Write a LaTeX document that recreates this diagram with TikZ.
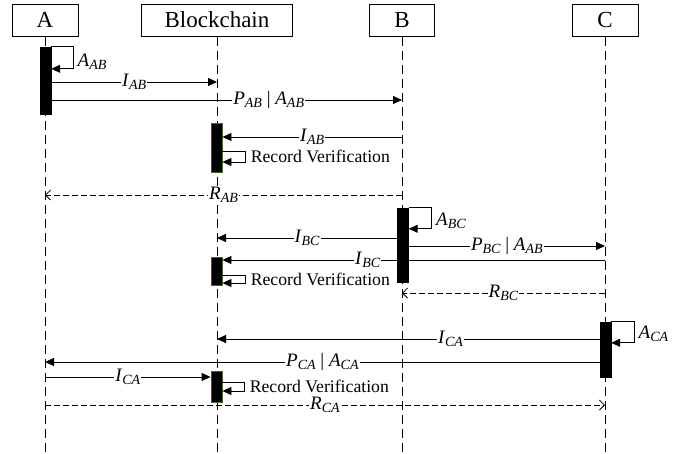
\documentclass[tikz,border=0pt]{standalone}
\usepackage{fontspec}
\setmainfont{Liberation Serif}
\usetikzlibrary{positioning,arrows.meta}

\definecolor{bargreen}{RGB}{70,100,40}
\newcommand{\symb}[2]{\textit{#1}\raisebox{-0.35ex}{\fontsize{14}{16}\selectfont\textit{#2}}}

\tikzset{
	actor/.style={draw,line width=1pt,minimum height=32pt,inner sep=0pt,font=\fontsize{23}{26}\selectfont},
	life/.style={line width=0.8pt,dash pattern=on 9pt off 5pt},
	bar/.style={draw,fill=black,minimum width=11pt,inner sep=0pt},
	gbar/.style={bar,draw=bargreen,line width=0.8pt},
	msg/.style={line width=0.8pt,-{Triangle[length=9pt,width=8pt]}},
	ret/.style={line width=0.8pt,dash pattern=on 6pt off 3pt,-{Straight Barb[length=5pt,width=10pt]}},
	lbl/.style={fill=white,inner sep=1pt,font=\fontsize{19}{22}\selectfont},
	self/.style={lbl,right,xshift=3pt},
	rv/.style={right,xshift=4pt,inner sep=1pt,font=\fontsize{17.7}{20}\selectfont},
}

\begin{document}
\begin{tikzpicture}[x=1pt,y=-1pt]
		\useasboundingbox (0,0) rectangle (686,453);
		\coordinate (bot) at (0,453);
		% participants and lifelines
		\node[actor,minimum width=66pt] (A) at (45,20) {A};
		\node[actor,minimum width=151pt] (BC) at (217,20) {Blockchain};
		\node[actor,minimum width=65pt] (B) at (402,20) {B};
		\node[actor,minimum width=66pt] (C) at (605,20) {C};
		\foreach \p in {A,BC,B,C}
			\draw[life] (\p.south) -- (\p.south |- bot);
		% activation bars
		\node[bar,minimum height=67pt] (actA) at (45.5,80.5) {};
		\node[gbar,minimum height=49pt] (bc1) at (216.5,147.5) {};
		\node[bar,minimum height=74pt] (actB) at (403,245) {};
		\node[gbar,minimum height=28pt] (bc2) at (216.5,271) {};
		\node[bar,minimum height=55pt] (actC) at (605.5,349.5) {};
		\node[gbar,minimum height=31pt] (bc3) at (216.5,386.5) {};
		% A -> Blockchain, A -> B
		\draw[msg] (actA.north east) -- ++(22,0) -- node[self,pos=0.7] {\symb{A}{AB}} ++(0,22) -- ++(-22,0);
		\draw[msg] (actA.east |- 0,82) -- node[lbl] {\symb{I}{AB}} (BC.south |- 0,82);
		\draw[msg] (actA.east |- 0,100) -- node[lbl,pos=0.62] {\symb{P}{AB} | \symb{A}{AB}} (B.south |- 0,100);
		\draw[msg] (B.south |- 0,137) -- node[lbl] {\symb{I}{AB}} (bc1.east |- 0,137);
		\draw[msg] (bc1.east |- 0,151) -- ++(23,0) -- node[rv] {Record Verification} ++(0,11) -- ++(-23,0);
		\draw[ret] (B.south |- 0,195) -- node[lbl] {\symb{R}{AB}} (A.south |- 0,195);
		% B -> Blockchain, B -> C
		\draw[msg] (actB.north east) -- ++(23,0) -- node[self,pos=0.6] {\symb{A}{BC}} ++(0,21) -- ++(-23,0);
		\draw[msg] (actB.west |- 0,238) -- node[lbl] {\symb{I}{BC}} (BC.south |- 0,238);
		\draw[msg] (actB.east |- 0,246) -- node[lbl] {\symb{P}{BC} | \symb{A}{AB}} (C.south |- 0,246);
		\draw[msg] (C.south |- 0,260) -- node[lbl,pos=0.62] {\symb{I}{BC}} (bc2.east |- 0,260);
		\draw[msg] (bc2.east |- 0,275) -- ++(23,0) -- node[rv] {Record Verification} ++(0,8) -- ++(-23,0);
		\draw[ret] (C.south |- 0,293) -- node[lbl] {\symb{R}{BC}} (B.south |- 0,293);
		% C -> Blockchain, C -> A
		\draw[msg] (actC.north east) -- ++(23,0) -- node[self,pos=0.55] {\symb{A}{CA}} ++(0,21) -- ++(-23,0);
		\draw[msg] (actC.west |- 0,339) -- node[lbl,pos=0.39] {\symb{I}{CA}} (BC.south |- 0,339);
		\draw[msg] (actC.west |- 0,362) -- node[lbl] {\symb{P}{CA} | \symb{A}{CA}} (A.south |- 0,362);
		\draw[msg] (A.south |- 0,377) -- node[lbl] {\symb{I}{CA}} (bc3.west |- 0,377);
		\draw[msg] (bc3.east |- 0,382) -- ++(22,0) -- node[rv] {Record Verification} ++(0,9) -- ++(-22,0);
		\draw[ret] (A.south |- 0,405) -- node[lbl] {\symb{R}{CA}} (C.south |- 0,405);
	\end{tikzpicture}
\end{document}
